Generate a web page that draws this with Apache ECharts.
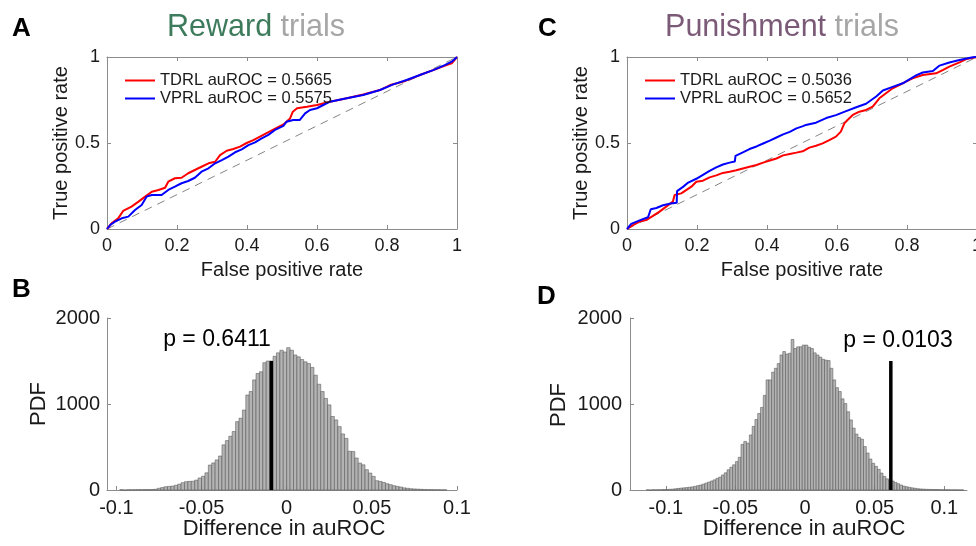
<!DOCTYPE html>
<html>
<head>
<meta charset="utf-8">
<script src="https://cdn.jsdelivr.net/npm/echarts@6.0.0/dist/echarts.min.js"></script>
<style>html,body{margin:0;padding:0;background:#fff}#c{width:976px;height:546px}</style>
</head>
<body>
<div id="c"></div>
<script>
// ---------- DATA ----------
const rocTicksX = [0, 0.2, 0.4, 0.6, 0.8, 1];
const rocTicksY = [0, 0.5, 1];
const histTicksX = [-0.1, -0.05, 0, 0.05, 0.1];
const histTicksY = [0, 1000, 2000];

const aLegend = ['TDRL auROC = 0.5665', 'VPRL auROC = 0.5575'];
const cLegend = ['TDRL auROC = 0.5036', 'VPRL auROC = 0.5652'];

// Panel A: reward trials ROC (fpr, tpr)
const aTdrl = [[0,0],[0.013,0.033],[0.032,0.062],[0.046,0.105],[0.070,0.130],[0.090,0.159],[0.109,0.188],[0.128,0.217],[0.147,0.227],[0.166,0.240],[0.175,0.275],[0.194,0.295],[0.213,0.298],[0.232,0.324],[0.251,0.343],[0.270,0.362],[0.290,0.382],[0.309,0.391],[0.323,0.430],[0.342,0.455],[0.361,0.465],[0.380,0.479],[0.399,0.500],[0.418,0.517],[0.437,0.537],[0.456,0.558],[0.475,0.578],[0.504,0.608],[0.523,0.643],[0.531,0.682],[0.543,0.702],[0.571,0.711],[0.600,0.721],[0.637,0.740],[0.685,0.760],[0.732,0.782],[0.780,0.808],[0.809,0.837],[0.847,0.857],[0.894,0.895],[0.932,0.924],[0.970,0.953],[0.985,0.963],[1,1]];
const aVprl = [[0,0],[0.009,0.023],[0.023,0.043],[0.042,0.062],[0.061,0.072],[0.080,0.110],[0.099,0.140],[0.113,0.188],[0.128,0.198],[0.156,0.198],[0.175,0.227],[0.194,0.246],[0.213,0.266],[0.232,0.279],[0.251,0.298],[0.270,0.333],[0.290,0.353],[0.309,0.382],[0.328,0.401],[0.347,0.421],[0.366,0.446],[0.385,0.463],[0.404,0.488],[0.423,0.504],[0.442,0.527],[0.461,0.547],[0.480,0.576],[0.504,0.600],[0.513,0.624],[0.532,0.634],[0.551,0.634],[0.566,0.672],[0.580,0.692],[0.600,0.702],[0.618,0.721],[0.637,0.740],[0.685,0.760],[0.732,0.779],[0.780,0.808],[0.818,0.841],[0.856,0.866],[0.894,0.895],[0.932,0.924],[0.965,0.953],[0.985,0.973],[1,1]];

// Panel C: punishment trials ROC (fpr, tpr)
const cTdrl = [[0,0],[0.017,0.023],[0.036,0.043],[0.055,0.052],[0.074,0.076],[0.093,0.101],[0.112,0.130],[0.131,0.159],[0.136,0.198],[0.155,0.207],[0.170,0.227],[0.184,0.246],[0.198,0.275],[0.217,0.281],[0.236,0.300],[0.255,0.312],[0.274,0.326],[0.293,0.333],[0.312,0.342],[0.331,0.352],[0.350,0.362],[0.370,0.372],[0.389,0.386],[0.408,0.398],[0.427,0.410],[0.446,0.428],[0.465,0.436],[0.484,0.444],[0.502,0.452],[0.521,0.473],[0.540,0.484],[0.559,0.498],[0.578,0.517],[0.597,0.537],[0.611,0.566],[0.621,0.614],[0.630,0.634],[0.645,0.663],[0.664,0.682],[0.683,0.692],[0.702,0.711],[0.721,0.760],[0.740,0.789],[0.759,0.818],[0.778,0.837],[0.797,0.857],[0.816,0.876],[0.845,0.895],[0.883,0.905],[0.902,0.924],[0.921,0.944],[0.950,0.969],[0.969,0.988],[1,1]];
const cVprl = [[0,0],[0.012,0.030],[0.036,0.050],[0.060,0.068],[0.068,0.115],[0.084,0.122],[0.103,0.138],[0.125,0.148],[0.142,0.152],[0.143,0.220],[0.160,0.245],[0.175,0.270],[0.198,0.292],[0.217,0.315],[0.236,0.338],[0.255,0.358],[0.274,0.375],[0.293,0.386],[0.308,0.392],[0.310,0.425],[0.331,0.445],[0.350,0.465],[0.370,0.480],[0.389,0.497],[0.408,0.514],[0.427,0.532],[0.446,0.550],[0.465,0.565],[0.484,0.585],[0.503,0.598],[0.511,0.605],[0.540,0.618],[0.569,0.645],[0.597,0.662],[0.626,0.685],[0.655,0.708],[0.683,0.728],[0.712,0.770],[0.731,0.805],[0.759,0.826],[0.788,0.847],[0.826,0.893],[0.845,0.910],[0.874,0.918],[0.893,0.950],[0.921,0.968],[0.950,0.982],[0.988,0.998],[1,1]];

const chanceLine = [[0,0],[1,1]];

// Panel B / D histograms: bin width, first bin centre, counts
const binWidth = 0.002;
const bFirstCenter = -0.097;
const bCounts = [4,0,3,3,3,4,4,5,5,6,8,20,28,38,42,45,55,68,85,97,100,102,115,140,160,200,290,315,350,395,525,575,625,680,795,835,930,1105,1145,1280,1355,1375,1480,1500,1500,1555,1595,1625,1605,
  1655,1625,1570,1548,1517,1490,1470,1425,1335,1230,1145,1065,990,855,815,737,652,600,450,448,372,313,293,236,197,158,108,100,89,73,62,50,42,35,25,20,15,12,10,8,6,5,4,3,3,2,2];
const dFirstCenter = -0.113;
const dCounts = [2,0,3,2,3,3,5,6,8,10,14,18,22,25,28,32,36,42,50,58,68,80,92,105,118,135,150,175,200,235,265,293,330,380,530,565,545,640,740,820,890,960,1100,1280,1280,1370,1415,1470,1570,1610,1580,1590,1750,1645,1665,1665,1685,
  1685,1660,1645,1595,1570,1545,1520,1510,1505,1415,1280,1190,1145,1060,1005,910,815,720,650,610,590,505,430,360,310,275,240,197,158,130,115,105,88,73,58,45,38,31,25,20,15,12,10,8,7,6,5,5,4,3,3,3,2,2,2,1,1];

const bObserved = -0.009;   // observed difference, panel B
const dObserved = 0.0616;   // observed difference, panel D
const observedTop = 1500;
const bPText = 'p = 0.6411';
const dPText = 'p = 0.0103';

// ---------- CHART ----------
const FONT = '"Liberation Sans", Arial, Helvetica, sans-serif';
const AX = '#8c8c8c';
const TXT = '#1a1a1a';

function histData(first, counts) {
  return counts.map((c, i) => [+(first + i * binWidth).toFixed(4), c]);
}
const plain = v => String(+v.toFixed(4));

function baseAxis(gridIndex, min, max, interval, extra) {
  return Object.assign({
    type: 'value', gridIndex, min, max, interval,
    axisLine: { show: true, onZero: false, lineStyle: { color: AX, width: 1 } },
    axisTick: { show: true, inside: true, length: 4, lineStyle: { color: AX, width: 1 } },
    axisLabel: { show: true, color: TXT, fontSize: 18, fontFamily: FONT, margin: 8, formatter: plain },
    splitLine: { show: false }
  }, extra || {});
}
function noLabel(a) { a.axisLabel = { show: false }; return a; }

const xAxis = [
  baseAxis(0, 0, 1, 0.2, { position: 'bottom' }),
  noLabel(baseAxis(0, 0, 1, 0.2, { position: 'top' })),
  baseAxis(1, 0, 1, 0.2, { position: 'bottom' }),
  noLabel(baseAxis(1, 0, 1, 0.2, { position: 'top' })),
  baseAxis(2, -0.1055, 0.1, null, { position: 'bottom' }),
  baseAxis(3, -0.1257, 0.1163, null, { position: 'bottom' })
];
[4, 5].forEach(i => {
  delete xAxis[i].interval;
  xAxis[i].axisTick.customValues = histTicksX;
  xAxis[i].axisLabel = { show: true, color: TXT, fontSize: 20, fontFamily: FONT, margin: 8, customValues: histTicksX, formatter: plain };
});
const yAxis = [
  baseAxis(0, 0, 1, 0.5, { position: 'left' }),
  noLabel(baseAxis(0, 0, 1, 0.5, { position: 'right' })),
  baseAxis(1, 0, 1, 0.5, { position: 'left' }),
  noLabel(baseAxis(1, 0, 1, 0.5, { position: 'right' })),
  baseAxis(2, 0, 2000, 1000, { position: 'left' }),
  baseAxis(3, 0, 2000, 1000, { position: 'left' })
];
yAxis[0].axisLabel.margin = 7; yAxis[2].axisLabel.margin = 7;
yAxis[4].axisLabel.fontSize = 20; yAxis[4].axisLabel.margin = 7;
yAxis[5].axisLabel.fontSize = 20; yAxis[5].axisLabel.margin = 8;

function rocLine(name, data, color, xi, yi) {
  return { type: 'line', name, data, xAxisIndex: xi, yAxisIndex: yi, symbol: 'none', showSymbol: false,
    lineStyle: { color, width: 2 }, itemStyle: { color }, z: 3 };
}
function chance(xi, yi) {
  return { type: 'line', data: chanceLine, xAxisIndex: xi, yAxisIndex: yi, symbol: 'none', silent: true,
    lineStyle: { color: '#666', width: 0.8, type: [8, 6] }, z: 2 };
}
function hist(data, xi, yi) {
  return {
    type: 'custom', xAxisIndex: xi, yAxisIndex: yi, data, encode: { x: 0, y: 1 },
    renderItem: function (params, api) {
      const c = api.value(0), h = api.value(1);
      const p0 = api.coord([c - binWidth / 2, h]);
      const p1 = api.coord([c + binWidth / 2, 0]);
      return { type: 'rect', shape: { x: p0[0], y: p0[1], width: p1[0] - p0[0], height: p1[1] - p0[1] },
        style: { fill: '#b3b3b3', stroke: '#4d4d4d', lineWidth: 0.5 } };
    }, z: 2
  };
}
function observed(x, xi, yi) {
  return { type: 'line', data: [[x, 0], [x, observedTop]], xAxisIndex: xi, yAxisIndex: yi, symbol: 'none',
    lineStyle: { color: '#000', width: 3.5 }, z: 4 };
}

function txt(x, y, text, size, extra, rot) {
  const el = { type: 'text', x, y, style: Object.assign({ text, fontSize: size, fontFamily: FONT, fill: TXT, align: 'center', verticalAlign: 'middle' }, extra || {}) };
  if (rot) el.rotation = rot;
  return el;
}
function title(x, y, word, color) {
  return { type: 'text', x, y, style: {
    text: '{w|' + word + '} {t|trials}', fontSize: 30.5, fontFamily: FONT, align: 'center', verticalAlign: 'middle', fill: '#a6a6a6',
    rich: { w: { fill: color, fontSize: 30.5, fontFamily: FONT }, t: { fill: '#a6a6a6', fontSize: 30.5, fontFamily: FONT } }
  } };
}

const legendCommon = { orient: 'vertical', icon: 'rect', itemWidth: 30, itemHeight: 2, itemGap: 1, selectedMode: false,
  textStyle: { fontSize: 16.5, fontFamily: FONT, color: TXT } };

const gridCommon = { outerBoundsMode: 'none', containLabel: false };

const option = {
  animation: false,
  backgroundColor: '#fff',
  grid: [
    Object.assign({ left: 107, top: 57, width: 350, height: 172 }, gridCommon),
    Object.assign({ left: 627, top: 57, width: 350, height: 172 }, gridCommon),
    Object.assign({ left: 107, top: 318, width: 350, height: 172 }, gridCommon),
    Object.assign({ left: 630, top: 318, width: 337, height: 172 }, gridCommon)
  ],
  xAxis, yAxis,
  legend: [
    Object.assign({ data: aLegend, left: 120, top: 67 }, legendCommon),
    Object.assign({ data: cLegend, left: 640, top: 67 }, legendCommon)
  ],
  series: [
    chance(0, 0),
    rocLine(aLegend[0], aTdrl, '#ff0000', 0, 0),
    rocLine(aLegend[1], aVprl, '#0000ff', 0, 0),
    chance(2, 2),
    rocLine(cLegend[0], cTdrl, '#ff0000', 2, 2),
    rocLine(cLegend[1], cVprl, '#0000ff', 2, 2),
    hist(histData(bFirstCenter, bCounts), 4, 4),
    observed(bObserved, 4, 4),
    hist(histData(dFirstCenter, dCounts), 5, 5),
    observed(dObserved, 5, 5)
  ],
  graphic: [
    title(256, 28, 'Reward', '#3d7b5c'),
    title(782, 28, 'Punishment', '#7b5a78'),
    txt(12, 29, 'A', 26, { fontWeight: 'bold', align: 'left', fill: '#000' }),
    txt(12, 290, 'B', 26, { fontWeight: 'bold', align: 'left', fill: '#000' }),
    txt(538, 29, 'C', 26, { fontWeight: 'bold', align: 'left', fill: '#000' }),
    txt(537, 297, 'D', 26, { fontWeight: 'bold', align: 'left', fill: '#000' }),
    txt(61, 143, 'True positive rate', 20, null, Math.PI / 2),
    txt(581, 143, 'True positive rate', 20, null, Math.PI / 2),
    txt(282, 270, 'False positive rate', 20),
    txt(802, 270, 'False positive rate', 20),
    txt(39, 404, 'PDF', 22, null, Math.PI / 2),
    txt(559, 405, 'PDF', 22, null, Math.PI / 2),
    txt(284, 529, 'Difference in auROC', 22),
    txt(804, 529, 'Difference in auROC', 22),
    txt(217, 340, bPText, 23, { fill: '#000' }),
    txt(898, 341, dPText, 23, { fill: '#000' })
  ]
};

const chart = echarts.init(document.getElementById('c'), null, { renderer: 'canvas', width: 976, height: 546 });
chart.setOption(option);
</script>
</body>
</html>
